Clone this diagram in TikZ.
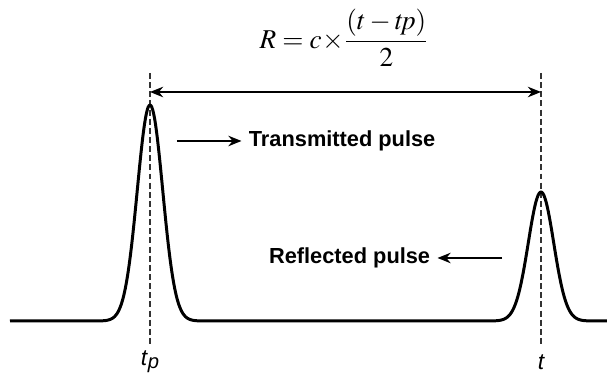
\documentclass[tikz,border=0pt]{standalone}
\usepackage{mathptmx}
\usepackage{fontspec}
\newfontfamily\lblfont{Liberation Sans}
\usepackage{tikz}
\usetikzlibrary{arrows.meta,positioning}

\begin{document}
\begin{tikzpicture}[
    lbl/.style={font=\lblfont\bfseries\fontsize{12.4}{14}\selectfont, inner sep=2pt},
    tlbl/.style={font=\lblfont\itshape\fontsize{13}{15}\selectfont, inner sep=0pt},
    pulse/.style={line width=1.7pt, line join=round},
    guide/.style={line width=0.7pt, black!80, dash pattern=on 3.4pt off 1.8pt},
    arr/.style={-{Stealth[length=7.5pt,width=6pt]}, line width=0.9pt},
    darr/.style={{Stealth[length=7.5pt,width=6pt]}-{Stealth[length=7.5pt,width=6pt]}, line width=0.9pt}
]
    \useasboundingbox (0,0) rectangle (12.14,7.6);

    \coordinate (tpTop) at (3.0,6.14);
    \coordinate (tpBot) at (3.0,0.7);
    \coordinate (tTop) at (10.82,6.14);
    \coordinate (tBot) at (10.82,0.7);
    \coordinate (tpArr) at (3.0,5.76);
    \coordinate (tArr) at (10.82,5.76);

    \draw[guide] (tpTop) -- (tpBot);
    \draw[guide] (tTop) -- (tBot);

    \draw[pulse] (0.2,1.18) -- plot[domain=2:4, samples=90, smooth] (\x,{1.18+4.32*exp(-((\x-3)^2)/(2*0.254^2))})
        -- plot[domain=9.82:11.82, samples=90, smooth] (\x,{1.18+2.58*exp(-((\x-10.82)^2)/(2*0.254^2))})
        -- (12.14,1.18);

    \draw[darr] (tpArr) -- (tArr);

    \node (eq) at (6.88,6.84) {\fontsize{15.5}{18}\selectfont $\displaystyle R = c\!\times\!\frac{(t-\mathit{tp})}{2}$};

    \node[lbl, anchor=west] (tx) at (4.9,4.78) {Transmitted pulse};
    \coordinate (txTail) at (3.54,4.78);
    \draw[arr] (txTail) -- ([xshift=-2pt]tx.west);

    \node[lbl, anchor=east] (rx) at (8.68,2.44) {Reflected pulse};
    \coordinate (rxTail) at (10.04,2.44);
    \draw[arr] (rxTail) -- ([xshift=2pt]rx.east);

    \node[tlbl] (tpl) at (3.0,0.36) {t\kern0.5pt\raisebox{-0.25ex}{\fontsize{11.5}{13}\selectfont p}};
    \node[tlbl] (tl) at (10.82,0.36) {t};
\end{tikzpicture}
\end{document}
